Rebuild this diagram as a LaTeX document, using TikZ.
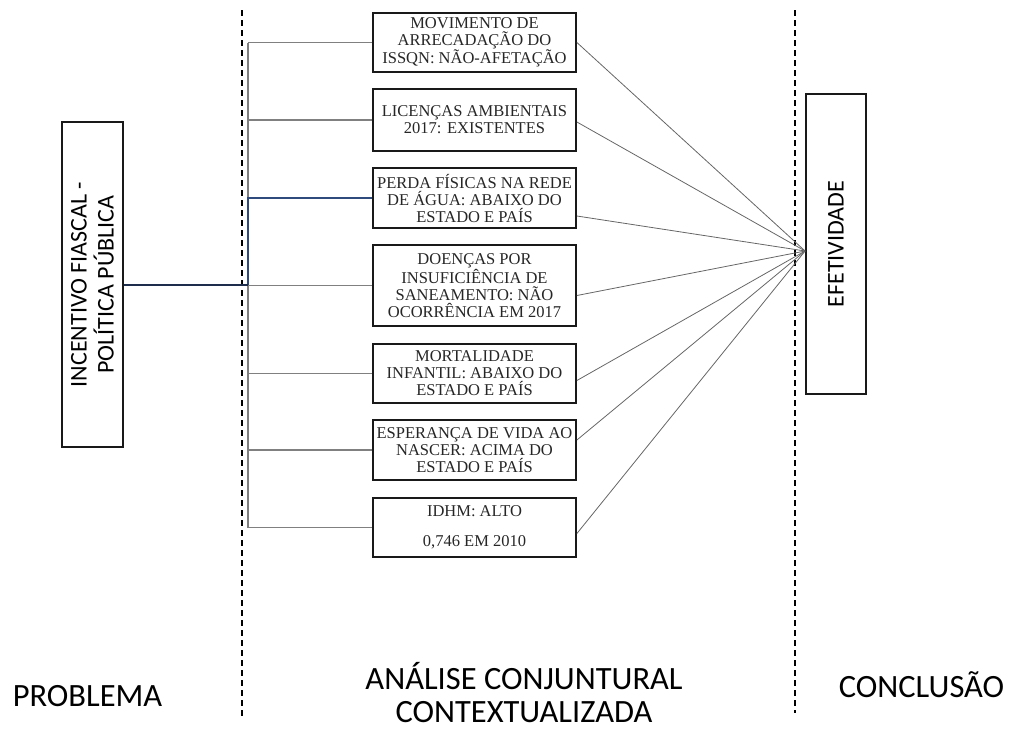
\documentclass[tikz,border=0pt]{standalone}
\usepackage{fontspec}
\setmainfont{Liberation Serif}
\newfontfamily\calibri{Carlito}
\usetikzlibrary{calc}

\tikzset{
  caixa/.style={draw=black!90, line width=1.8pt, align=center, inner sep=1pt,
    minimum width=203pt, text=black!85, font=\fontsize{16.5}{17}\selectfont},
  bloco/.style={draw=black!90, line width=1.8pt, align=center, rotate=90,
    font=\calibri\fontsize{24}{27}\selectfont},
  rotulo/.style={anchor=base, inner sep=0pt, font=\calibri\fontsize{32.5}{33}\selectfont},
  divisa/.style={line width=1.5pt, dash pattern=on 6pt off 4pt},
  ramo/.style={draw=black!50, line width=1.2pt},
  raio/.style={draw=black!60, line width=0.8pt}
}

\begin{document}
\begin{tikzpicture}[x=1pt,y=-1pt]
  \useasboundingbox (0,0) rectangle (1010,729);

  % colunas
  \draw[divisa] (242,10) -- (242,719);
  \draw[divisa] (795,10) -- (795,713);

  \node[bloco, minimum width=325pt, minimum height=61pt] (inc) at (92.5,284.5) {INCENTIVO FIASCAL -\\POLÍTICA PÚBLICA};
  \node[bloco, minimum width=300pt, minimum height=60pt] (ef) at (836,244) {EFETIVIDADE};

  \node[caixa, minimum height=59pt] (b1) at (474.5,42.5) {MOVIMENTO DE\\ARRECADAÇÃO DO\\ISSQN: NÃO-AFETAÇÃO};
  \node[caixa, minimum height=62pt] (b2) at (474.5,120) {LICENÇAS AMBIENTAIS\\2017: EXISTENTES};
  \node[caixa, minimum height=60pt] (b3) at (474.5,198) {PERDA FÍSICAS NA REDE\\DE ÁGUA: ABAIXO DO\\ESTADO E PAÍS};
  \node[caixa, minimum height=81pt] (b4) at (474.5,285.5) {DOENÇAS POR\\INSUFICIÊNCIA DE\\SANEAMENTO: NÃO\\OCORRÊNCIA EM 2017};
  \node[caixa, minimum height=59pt] (b5) at (474.5,373.5) {MORTALIDADE\\INFANTIL: ABAIXO DO\\ESTADO E PAÍS};
  \node[caixa, minimum height=60pt] (b6) at (474.5,450) {ESPERANÇA DE VIDA AO\\NASCER: ACIMA DO\\ESTADO E PAÍS};
  \node[caixa, minimum height=59pt] (b7) at (474.5,527.5) {IDHM: ALTO\\[13pt]0,746 EM 2010};

  % barramento
  \coordinate (bus) at (248,0);
  \draw[ramo] (b1.west -| bus) -- (b7.west -| bus);
  \foreach \b in {b1,b2,b4,b5,b6,b7}
    \draw[ramo] (\b.west) -- (\b.west -| bus);
  \draw[line width=1.4pt, color={rgb,255:red,47;green,75;blue,125}] (b3.west) -- (b3.west -| bus) -- (inc.south -| bus);
  \draw[line width=2pt, color={rgb,255:red,31;green,45;blue,77}] (inc.south) -- (inc.south -| bus);

  % ligacoes com a conclusao
  \coordinate (conv) at ([yshift=-7pt]ef.north);
  \foreach \b/\d in {b1/0,b2/-2,b3/-18,b4/-10,b5/-7,b6/10,b7/-6}
    \draw[raio] ([yshift=\d pt]\b.east) -- (conv);

  \node[rotulo] (prob) at (87.5,706) {PROBLEMA};
  \node[rotulo] (ana1) at (524,689) {ANÁLISE CONJUNTURAL};
  \node[rotulo] (ana2) at (524,722) {CONTEXTUALIZADA};
  \node[rotulo] (conc) at (921.5,697) {CONCLUSÃO};
\end{tikzpicture}
\end{document}
